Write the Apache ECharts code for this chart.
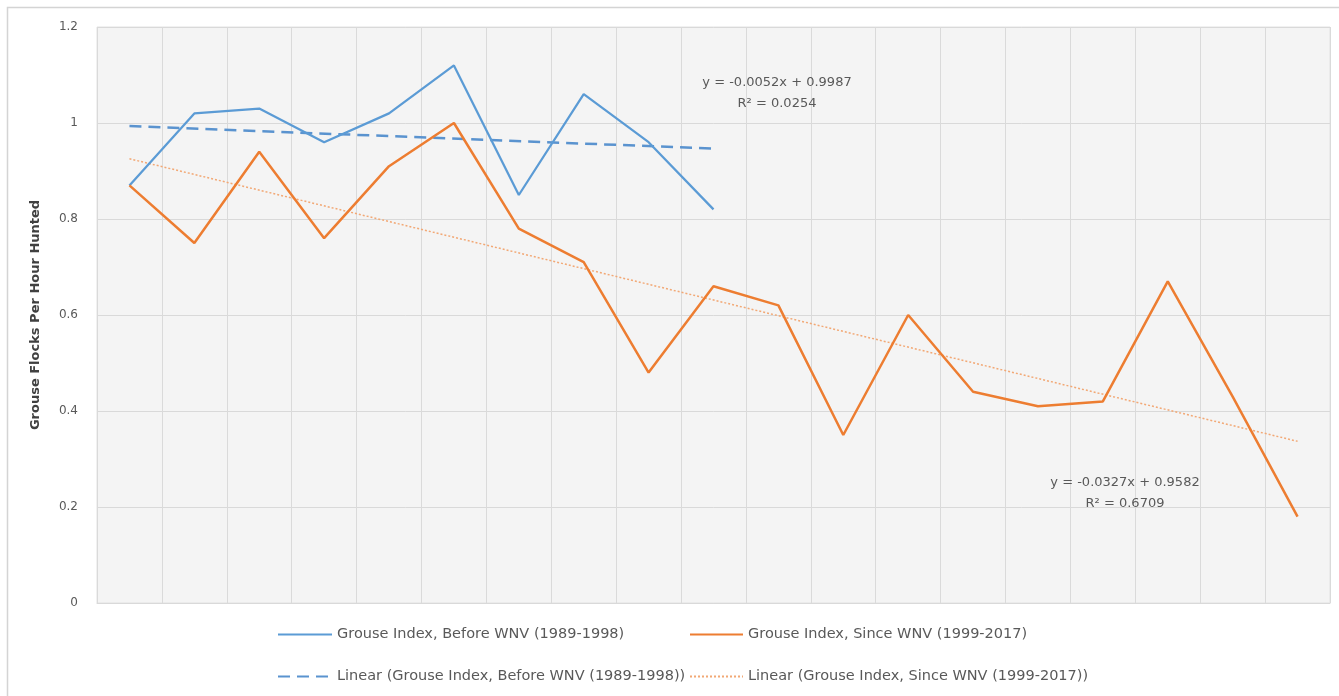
<!DOCTYPE html>
<html>
<head>
<meta charset="utf-8">
<title>Grouse Index Before and Since WNV</title>
<script src="https://cdn.jsdelivr.net/npm/echarts@6/dist/echarts.min.js"></script>
<style>
  html, body { margin: 0; padding: 0; background: #ffffff; }
  #chart { width: 1339px; height: 696px; }
</style>
</head>
<body>
<div id="chart"></div>
<script>
// Season index (x values used by the trendlines)
const categories = ['1','2','3','4','5','6','7','8','9','10','11','12','13','14','15','16','17','18','19'];

// Grouse flocks per hour hunted
const beforeWNV = [0.87, 1.02, 1.03, 0.96, 1.02, 1.12, 0.85, 1.06, 0.96, 0.82];
const sinceWNV = [0.87, 0.75, 0.94, 0.76, 0.91, 1.00, 0.78, 0.71, 0.48, 0.66,
                  0.62, 0.35, 0.60, 0.44, 0.41, 0.42, 0.67, 0.43, 0.18];

// Linear trendline coefficients as printed on the chart
const beforeFit = { slope: -0.0052, intercept: 0.9987, r2: '0.0254' };
const sinceFit = { slope: -0.0327, intercept: 0.9582, r2: '0.6709' };

const yTicks = ['0', '0.2', '0.4', '0.6', '0.8', '1', '1.2'];

const names = {
  before: 'Grouse Index, Before WNV (1989-1998)',
  since: 'Grouse Index, Since WNV (1999-2017)',
  beforeLin: 'Linear (Grouse Index, Before WNV (1989-1998))',
  sinceLin: 'Linear (Grouse Index, Since WNV (1999-2017))'
};

// Straight trendline between the first and last season of a series
function trendEnds(fit, n) {
  return [
    [categories[0], fit.intercept + fit.slope * 1],
    [categories[n - 1], fit.intercept + fit.slope * n]
  ];
}

function equationText(fit) {
  const sign = fit.intercept >= 0 ? '+' : '-';
  return 'y = ' + fit.slope.toFixed(4) + 'x ' + sign + ' ' + Math.abs(fit.intercept).toFixed(4);
}
function r2Text(fit) {
  return 'R\u00b2 = ' + fit.r2;
}

const FONT = 'DejaVu Sans';
const TEXT = '#595959';
const BLUE = '#5b9bd5';
const ORANGE = '#ed7d31';
const ORANGE_LIGHT = '#f2a875';

const chart = echarts.init(document.getElementById('chart'), null, { renderer: 'canvas' });

function legendAt(name, left, top, width) {
  return {
    data: [name],
    left: left,
    top: top,
    itemWidth: width,
    itemHeight: 12,
    selectedMode: false,
    padding: 0,
    itemStyle: { opacity: 0 },
    textStyle: { fontFamily: FONT, fontSize: 14.5, color: TEXT }
  };
}

function noteText(text, x, y) {
  return {
    type: 'text',
    x: x, y: y,
    silent: true,
    style: {
      text: text,
      fontFamily: FONT, fontSize: 13, fill: TEXT,
      align: 'center', verticalAlign: 'middle'
    },
    z: 10
  };
}

chart.setOption({
  animation: false,
  backgroundColor: '#ffffff',
  textStyle: { fontFamily: FONT },
  grid: {
    left: 97, right: 9, top: 27, bottom: 93,
    show: true,
    backgroundColor: '#f4f4f4',
    borderColor: '#e2e2e2',
    borderWidth: 1
  },
  legend: [
    legendAt(names.before, 277, 627, 54),
    legendAt(names.since, 689, 627, 53),
    legendAt(names.beforeLin, 277, 669, 54),
    legendAt(names.sinceLin, 689, 669, 53)
  ],
  xAxis: {
    type: 'category',
    data: categories,
    boundaryGap: true,
    axisLabel: { show: false },
    axisTick: { show: false },
    axisLine: { show: true, lineStyle: { color: '#d9d9d9' } },
    splitLine: { show: true, interval: 0, lineStyle: { color: '#dadada', width: 1 } }
  },
  yAxis: {
    type: 'value',
    min: 0,
    max: 1.2,
    interval: 0.2,
    name: 'Grouse Flocks Per Hour Hunted',
    nameLocation: 'middle',
    nameRotate: 90,
    nameGap: 55,
    nameTextStyle: { fontFamily: FONT, fontSize: 13, fontWeight: 'bold', color: '#404040' },
    axisLine: { show: false },
    axisTick: { show: false },
    axisLabel: {
      margin: 19,
      fontFamily: FONT,
      fontSize: 12,
      color: TEXT,
      formatter: function (v) { return yTicks[Math.round(v / 0.2)]; }
    },
    splitLine: { show: true, lineStyle: { color: '#d9d9d9', width: 1 } }
  },
  graphic: [
    {
      type: 'rect',
      silent: true,
      shape: { x: 7.5, y: 7.5, width: 1340, height: 700 },
      style: { fill: 'none', stroke: '#d4d4d4', lineWidth: 1.5 },
      z: -10
    },
    noteText(equationText(beforeFit), 777, 83),
    noteText(r2Text(beforeFit), 777, 104),
    noteText(equationText(sinceFit), 1125, 483),
    noteText(r2Text(sinceFit), 1125, 504)
  ],
  series: [
    {
      name: names.beforeLin,
      type: 'line',
      data: trendEnds(beforeFit, beforeWNV.length),
      symbol: 'none',
      lineStyle: { color: '#5a93cf', width: 2.5, type: [12, 7] },
      itemStyle: { color: BLUE },
      z: 2
    },
    {
      name: names.sinceLin,
      type: 'line',
      data: trendEnds(sinceFit, sinceWNV.length),
      symbol: 'none',
      lineStyle: { color: ORANGE_LIGHT, width: 1.5, type: [2, 2] },
      itemStyle: { color: ORANGE_LIGHT },
      z: 2
    },
    {
      name: names.before,
      type: 'line',
      data: beforeWNV,
      symbol: 'none',
      lineStyle: { color: BLUE, width: 2.25 },
      itemStyle: { color: BLUE },
      z: 3
    },
    {
      name: names.since,
      type: 'line',
      data: sinceWNV,
      symbol: 'none',
      lineStyle: { color: ORANGE, width: 2.5 },
      itemStyle: { color: ORANGE },
      z: 3
    }
  ]
});
</script>
</body>
</html>
